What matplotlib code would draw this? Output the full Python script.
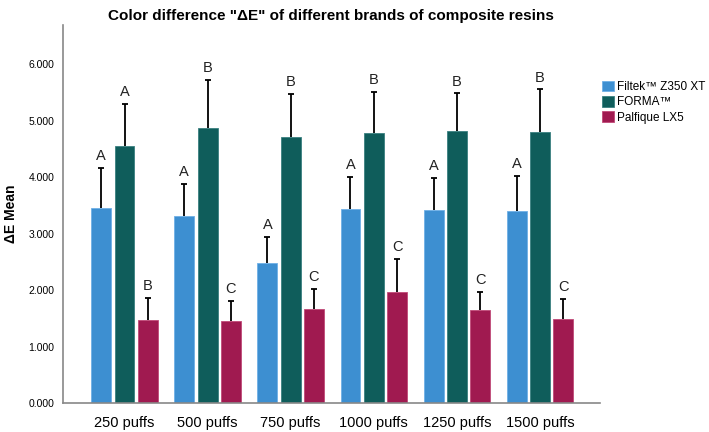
import numpy as np
import matplotlib
matplotlib.use("Agg")
import matplotlib.pyplot as plt

plt.rcParams["font.family"] = ["Liberation Sans", "DejaVu Sans"]

groups = ["250 puffs", "500 puffs", "750 puffs", "1000 puffs", "1250 puffs", "1500 puffs"]
brands = ["Filtek\u2122 Z350 XT", "FORMA\u2122", "Palfique LX5"]

filtek_mean = [3.45, 3.31, 2.48, 3.43, 3.42, 3.40]
filtek_err = [0.71, 0.57, 0.46, 0.57, 0.56, 0.62]
forma_mean = [4.55, 4.87, 4.70, 4.78, 4.81, 4.80]
forma_err = [0.74, 0.85, 0.77, 0.72, 0.67, 0.75]
palfique_mean = [1.47, 1.45, 1.66, 1.96, 1.65, 1.49]
palfique_err = [0.39, 0.35, 0.36, 0.59, 0.31, 0.35]

filtek_letters = ["A", "A", "A", "A", "A", "A"]
forma_letters = ["A", "B", "B", "B", "B", "B"]
palfique_letters = ["B", "C", "C", "C", "C", "C"]

colors = ["#3d8fd1", "#0f5d5b", "#a01a50"]
edges = ["#6fb0e6", "#3a8080", "#c04a78"]

fig = plt.figure(figsize=(7.09, 4.32), dpi=100)
ax = fig.add_axes([0.0889, 0.067, 0.757, 0.875])

x = np.arange(len(groups))
width = 0.24
step = 0.28
series = [
    (filtek_mean, filtek_err, filtek_letters),
    (forma_mean, forma_err, forma_letters),
    (palfique_mean, palfique_err, palfique_letters),
]
for i, (means, errs, letters) in enumerate(series):
    pos = x + (i - 1) * step
    means = np.asarray(means)
    tops = means + np.asarray(errs)
    ax.bar(pos, means, width, color=colors[i], edgecolor=edges[i], linewidth=0.6,
           label=brands[i], zorder=2)
    # one-sided error bars: stem up from bar top, cap only at the top
    ax.vlines(pos, means, tops, color="black", linewidth=1.3, zorder=3)
    ax.plot(pos, tops, linestyle="none", marker="_", markersize=5,
            markeredgewidth=1.3, color="black", zorder=3)
    for p, t, lab in zip(pos, tops, letters):
        ax.annotate(lab, (p, t), xytext=(0, 3.5), textcoords="offset points",
                    ha="center", va="bottom", fontsize=10.5, color="#222222")

ax.set_xlim(-0.74, 5.72)
ax.set_ylim(0, 6.69)
ax.set_yticks([0, 1, 2, 3, 4, 5, 6])
ax.set_yticklabels([f"{v:.3f}" for v in range(7)], fontsize=7.5)
ax.set_xticks(x)
ax.set_xticklabels(groups, fontsize=10.5)
ax.tick_params(axis="y", length=0, pad=6)
ax.tick_params(axis="x", length=0, pad=9)
for side in ["top", "right"]:
    ax.spines[side].set_visible(False)
for side in ["left", "bottom"]:
    ax.spines[side].set_color("#888888")
    ax.spines[side].set_linewidth(1.2)

ax.set_ylabel("\u0394E Mean", fontsize=10, fontweight="bold", labelpad=8)
fig.text(0.467, 0.962, "Color difference \"\u0394E\" of different brands of composite resins",
         ha="center", va="center", fontsize=11, fontweight="bold")

ax.legend(loc="upper left", bbox_to_anchor=(0.995, 0.865), frameon=False, fontsize=8.5,
          handlelength=1.0, handleheight=1.0, handletextpad=0.3, labelspacing=0.25,
          borderaxespad=0.0)

fig.savefig("out.png", dpi=100)
